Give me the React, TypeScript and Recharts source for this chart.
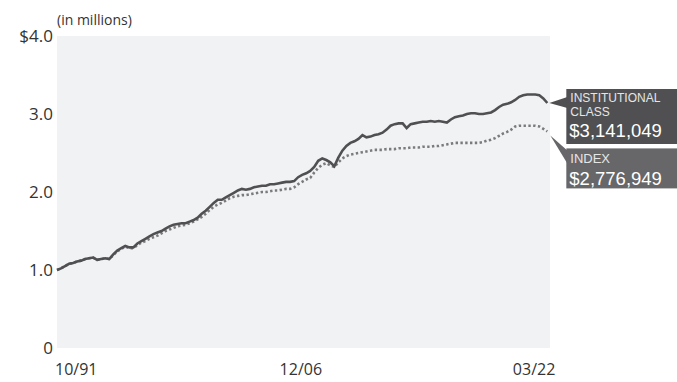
import React from "react";
import {
  LineChart,
  Line,
  XAxis,
  YAxis,
  CartesianGrid,
  ReferenceDot,
} from "recharts";

// Growth of $1,000,000, quarterly from 10/91 through 03/22 (in millions)
const institutionalClass = [
  1.0, 1.02, 1.05, 1.08, 1.09, 1.11, 1.12, 1.14, 1.15, 1.16,
  1.13, 1.14, 1.15, 1.14, 1.2, 1.25, 1.28, 1.31, 1.29, 1.29,
  1.34, 1.37, 1.4, 1.43, 1.46, 1.48, 1.5, 1.53, 1.56, 1.58,
  1.59, 1.6, 1.6, 1.62, 1.64, 1.67, 1.72, 1.76, 1.81, 1.86,
  1.9, 1.9, 1.93, 1.96, 1.99, 2.02, 2.04, 2.03, 2.04, 2.06,
  2.07, 2.08, 2.08, 2.1, 2.1, 2.11, 2.12, 2.13, 2.13, 2.14,
  2.19, 2.22, 2.24, 2.27, 2.32, 2.4, 2.43, 2.41, 2.38, 2.33,
  2.44, 2.53, 2.59, 2.63, 2.65, 2.68, 2.73, 2.7, 2.71, 2.73,
  2.74, 2.76, 2.8, 2.85, 2.87, 2.88, 2.88, 2.82, 2.87, 2.88,
  2.89, 2.9, 2.9, 2.91, 2.9, 2.91, 2.9, 2.89, 2.93, 2.96,
  2.97, 2.98, 3.0, 3.01, 3.01, 3.0, 3.0, 3.01, 3.02, 3.05,
  3.09, 3.12, 3.13, 3.15, 3.18, 3.22, 3.24, 3.25, 3.25, 3.25,
  3.24, 3.2, 3.141049,
];

const indexValues = [
  1.0, 1.02, 1.05, 1.08, 1.09, 1.11, 1.12, 1.14, 1.15, 1.16,
  1.13, 1.14, 1.15, 1.14, 1.19, 1.24, 1.27, 1.3, 1.28, 1.28,
  1.32, 1.35, 1.37, 1.4, 1.42, 1.44, 1.47, 1.5, 1.52, 1.54,
  1.56, 1.57, 1.58, 1.6, 1.62, 1.65, 1.68, 1.72, 1.77, 1.81,
  1.84, 1.86, 1.89, 1.92, 1.94, 1.95, 1.96, 1.96, 1.97, 1.98,
  1.99, 2.0, 2.0, 2.01, 2.02, 2.02, 2.03, 2.04, 2.04, 2.06,
  2.1, 2.13, 2.16, 2.18, 2.25, 2.31, 2.35, 2.37, 2.34, 2.32,
  2.38, 2.43, 2.46, 2.48, 2.49, 2.5, 2.51, 2.52, 2.53, 2.54,
  2.54, 2.54, 2.55, 2.55, 2.55, 2.56, 2.56, 2.56, 2.57, 2.57,
  2.57, 2.58, 2.58, 2.58, 2.59, 2.59, 2.6, 2.61, 2.62, 2.63,
  2.63, 2.63, 2.63, 2.63, 2.63, 2.63, 2.64, 2.66, 2.67, 2.69,
  2.72, 2.75, 2.77, 2.8, 2.84, 2.85, 2.85, 2.85, 2.85, 2.85,
  2.84, 2.81, 2.776949,
];

const xTicks = [0, 182, 366];
const xTickLabels = ["10/91", "12/06", "03/22"];
const yTicks = [0, 1, 2, 3, 4];

const endInstitutional = "$3,141,049";
const endIndex = "$2,776,949";

const data = institutionalClass.map((v, i) => ({
  month: i * 3,
  institutional: v,
  index: indexValues[i],
}));

const lastMonth = data[data.length - 1].month;
const tickFont = "'Open Sans', 'DejaVu Sans', sans-serif";
const boxFont = "'Liberation Sans', Arial, sans-serif";

const XTick = (props: any) => {
  const { x, y, payload } = props;
  const i = xTicks.indexOf(payload.value);
  const anchor = i === 0 ? "start" : i === xTicks.length - 1 ? "end" : "middle";
  const dx = i === 0 ? -2 : i === xTicks.length - 1 ? 8 : 0;
  return (
    <text
      x={x + dx}
      y={y + 19}
      textAnchor={anchor}
      fontFamily={tickFont}
      fontSize={16}
      fill="#333"
    >
      {xTickLabels[i]}
    </text>
  );
};

const YTick = (props: any) => {
  const { x, y, payload } = props;
  const v = payload.value;
  const label = v === 0 ? "0" : v === 4 ? "$4.0" : v.toFixed(1);
  return (
    <text
      x={x + 4}
      y={y + 6}
      textAnchor="end"
      fontFamily={tickFont}
      fontSize={17}
      fill="#333"
    >
      {label}
    </text>
  );
};

const InstitutionalCallout = (props: any) => {
  const { cx, cy } = props;
  const bx = cx + 19;
  const by = cy - 14;
  return (
    <g>
      <polygon points={`${cx + 2},${cy} ${bx + 1},${cy - 6} ${bx + 1},${cy + 5}`} fill="#505052" />
      <rect x={bx} y={by} width={112} height={55} fill="#505052" />
      <text x={bx + 4} y={cy - 1} fontFamily={boxFont} fontSize={12} fill="#e6e6e6">
        INSTITUTIONAL
      </text>
      <text x={bx + 4} y={cy + 13} fontFamily={boxFont} fontSize={12} fill="#e6e6e6">
        CLASS
      </text>
      <text x={bx + 3} y={cy + 34} fontFamily={boxFont} fontSize={18.5} fill="#fff">
        {endInstitutional}
      </text>
    </g>
  );
};

const IndexCallout = (props: any) => {
  const { cx, cy } = props;
  const bx = cx + 19;
  const by = cy + 17;
  return (
    <g>
      <polygon points={`${cx + 3},${cy + 4} ${bx + 1},${cy + 19} ${bx + 1},${cy + 32}`} fill="#67676a" />
      <rect x={bx} y={by} width={112} height={40} fill="#67676a" />
      <text x={bx + 4} y={cy + 32} fontFamily={boxFont} fontSize={13} fill="#e6e6e6">
        INDEX
      </text>
      <text x={bx + 3} y={cy + 54} fontFamily={boxFont} fontSize={18.5} fill="#fff">
        {endIndex}
      </text>
    </g>
  );
};

export default function App() {
  const last = data[data.length - 1];
  return (
    <div style={{ position: "absolute", left: 0, top: 0, width: 677, height: 382 }}>
      <span
        style={{
          position: "absolute",
          left: 57,
          top: 10,
          fontFamily: tickFont,
          fontSize: 14,
          color: "#333",
        }}
      >
        (in millions)
      </span>
      <LineChart
        width={677}
        height={382}
        data={data}
        margin={{ top: 36, right: 127, bottom: 4, left: 8 }}
      >
        <CartesianGrid horizontal={false} vertical={false} fill="#f1f2f4" />
        <XAxis
          dataKey="month"
          type="number"
          domain={[0, 368]}
          ticks={xTicks}
          tick={<XTick />}
          axisLine={false}
          tickLine={false}
          height={30}
          interval={0}
        />
        <YAxis
          type="number"
          domain={[0, 4]}
          ticks={yTicks}
          tick={<YTick />}
          axisLine={false}
          tickLine={false}
          width={49}
          interval={0}
        />
        <Line
          type="linear"
          dataKey="index"
          stroke="#7b7b7e"
          strokeWidth={2.6}
          strokeDasharray="2.4 2.4"
          dot={false}
          isAnimationActive={false}
        />
        <Line
          type="linear"
          dataKey="institutional"
          stroke="#505053"
          strokeWidth={2.6}
          dot={false}
          isAnimationActive={false}
        />
        <ReferenceDot
          x={lastMonth}
          y={last.institutional}
          ifOverflow="visible"
          shape={<InstitutionalCallout />}
        />
        <ReferenceDot
          x={lastMonth}
          y={last.index}
          ifOverflow="visible"
          shape={<IndexCallout />}
        />
      </LineChart>
    </div>
  );
}
